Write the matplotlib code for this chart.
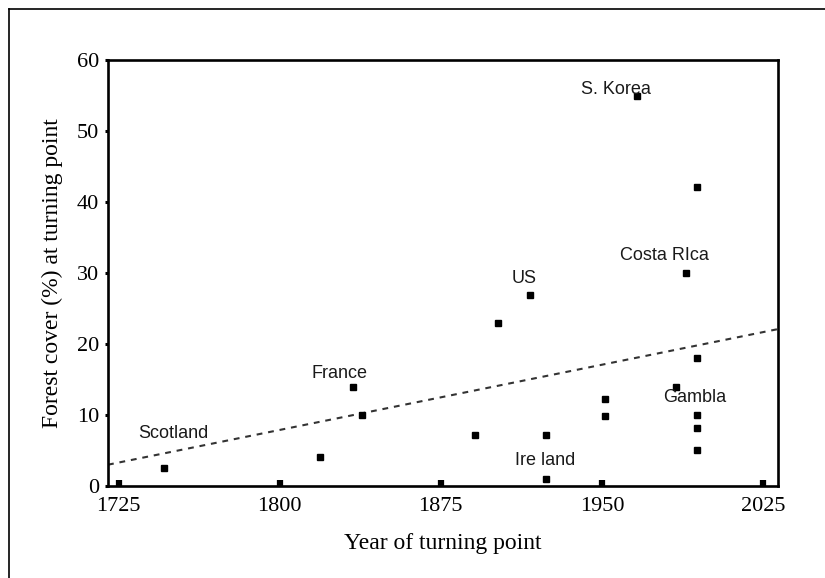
import matplotlib
matplotlib.use("Agg")
import matplotlib.pyplot as plt
from matplotlib.lines import Line2D

# turning-point year and forest cover (%) per country
years = [1746, 1818.5, 1834, 1838.5, 1891, 1901.5, 1916.5, 1924, 1924,
         1951.5, 1951.5, 1966.5, 1984.5, 1989, 1994.5, 1994.5, 1994.5,
         1994.5, 1994.5]
cover = [2.6, 4.1, 14.0, 10.0, 7.2, 22.9, 26.9, 7.2, 1.0,
         12.2, 9.9, 54.9, 14.0, 30.0, 42.1, 18.0, 9.95, 8.1, 5.1]

# dashed trend line end points
trend_x = [1720, 2032]
trend_y = [3.0, 22.1]

# country labels
label_text = ["Scotland", "France", "US", "S. Korea", "Costa RIca", "Gambla", "Ire land"]
label_x = [1750.5, 1828, 1914, 1956.5, 1979, 1993, 1923.5]
label_y = [7.4, 15.9, 29.2, 55.8, 32.4, 12.4, 3.6]

xticks = [1725, 1800, 1875, 1950, 2025]
yticks = [0, 10, 20, 30, 40, 50, 60]

serif = "Liberation Serif"
sans = "Liberation Sans"

fig = plt.figure(figsize=(8.25, 5.78), dpi=100)
ax = fig.add_axes([108 / 825, 1 - 486 / 578, 670 / 825, 426 / 578])

ax.plot(trend_x, trend_y, linestyle=(0, (2.8, 2.8)), color="#333333",
        linewidth=1.5, zorder=2)
ax.plot(years, cover, linestyle="none", marker="s", markersize=4.6,
        color="black", zorder=3)

for t, x, y in zip(label_text, label_x, label_y):
    ax.text(x, y, t, ha="center", va="center", fontsize=13,
            family=sans, color="#1a1a1a")

ax.set_xlim(1720, 2032)
ax.set_ylim(0, 60)
ax.set_xticks(xticks)
ax.set_yticks(yticks)
ax.set_xticklabels([str(v) for v in xticks], family=serif, fontsize=16)
ax.set_yticklabels([str(v) for v in yticks], family=serif, fontsize=16)

ax.tick_params(axis="x", direction="in", length=4.5, width=4.5, pad=8,
               color="black")
ax.tick_params(axis="y", direction="out", length=2.5, width=2.2, pad=4,
               color="black")

for s in ax.spines.values():
    s.set_linewidth(1.9)
    s.set_color("black")

ax.set_xlabel("Year of turning point", family=serif, fontsize=17, labelpad=12)
ax.set_ylabel("Forest cover (%) at turning point", family=serif, fontsize=17,
              labelpad=10)

# outer frame (top and left edges visible)
fig.add_artist(Line2D([9 / 825, 9 / 825], [0, 1 - 9 / 578],
                      transform=fig.transFigure, color="black", linewidth=1.2))
fig.add_artist(Line2D([9 / 825, 1], [1 - 9 / 578, 1 - 9 / 578],
                      transform=fig.transFigure, color="black", linewidth=1.2))

fig.savefig("out.png", dpi=100, facecolor="white")
